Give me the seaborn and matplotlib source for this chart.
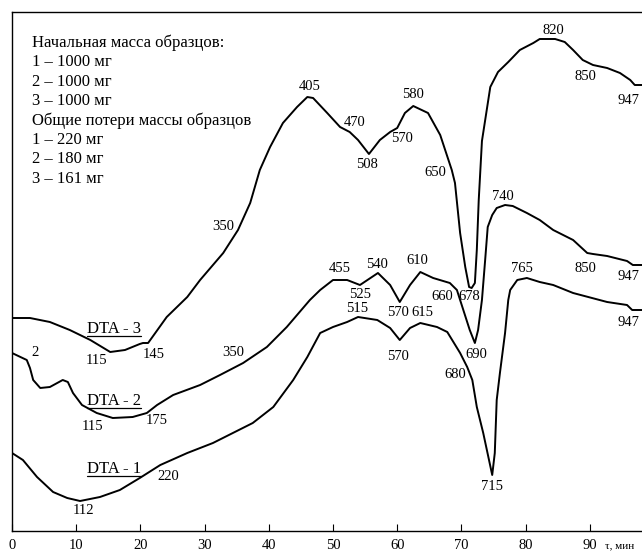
import numpy as np
import pandas as pd
import matplotlib
matplotlib.use("Agg")
import matplotlib.pyplot as plt
from matplotlib.lines import Line2D
from matplotlib.transforms import IdentityTransform
import seaborn as sns

# DTA curves: time (min) and signal (arbitrary units)
t3 = [0, 2.8, 5.9, 9.0, 12.2, 15.3, 17.6, 19.9, 20.4, 21.2, 24.1, 27.3, 29.3, 32.9, 35.2,
      37.1, 38.6, 40.2, 42.2, 44.4, 46.0, 46.9, 49.1, 51.1, 52.6, 53.9, 55.6, 57.3, 58.9,
      60.0, 61.2, 62.5, 64.8, 66.7, 68.5, 69.0, 69.8, 70.6, 71.2, 71.6, 72.1, 72.4, 72.7,
      73.2, 74.5, 75.7, 77.3, 79.1, 81.2, 82.2, 84.6, 86.1, 87.4, 88.9, 90.5, 92.7, 94.7,
      96.3, 97.0, 98.1]
s3 = [213, 213, 209, 201, 191, 179, 181, 187, 188, 188, 214, 234, 251, 278, 301,
      328, 361, 384, 408, 424, 434, 433, 418, 404, 399, 391, 377, 391, 399,
      403, 418, 425, 418, 396, 361, 348, 298, 264, 244, 243, 248, 281, 331,
      390, 444, 459, 469, 481, 488, 492, 492, 489, 481, 471, 466, 463, 458,
      451, 446, 446]

t2 = [0, 2.3, 2.8, 3.3, 4.4, 5.9, 7.9, 8.7, 9.5, 10.9, 13.2, 15.7, 18.8, 21.0, 22.6,
      25.1, 29.3, 32.4, 36.0, 39.7, 42.8, 46.4, 48.0, 50.0, 52.2, 54.2, 57.0, 58.9, 60.4,
      62.0, 63.6, 65.6, 68.2, 69.3, 70.3, 71.3, 72.1, 72.6, 73.2, 73.7, 74.1, 74.8, 75.5,
      76.8, 78.0, 80.2, 82.2, 84.3, 87.4, 89.6, 90.5, 92.7, 95.8, 96.7, 98.1]
s2 = [178, 171, 163, 151, 143, 144, 151, 149, 138, 126, 118, 113, 114, 118, 126,
      136, 146, 156, 168, 184, 204, 231, 241, 251, 251, 246, 258, 246, 229,
      246, 259, 253, 248, 241, 221, 201, 188, 201, 231, 271, 304, 316, 323,
      326, 325, 318, 311, 301, 291, 278, 277, 275, 270, 266, 266]

t1 = [0, 1.7, 3.9, 6.4, 8.6, 10.6, 13.7, 16.8, 19.9, 23.1, 27.3, 31.3, 34.4, 37.5, 40.7,
      43.8, 46.0, 48.0, 50.0, 52.2, 53.9, 56.9, 58.9, 60.4, 62.0, 63.6, 66.2, 67.8, 69.8,
      70.9, 71.7, 72.4, 73.4, 74.8, 75.2, 75.5, 76.0, 76.8, 77.3, 77.6, 78.7, 80.2, 82.2,
      84.3, 87.4, 92.7, 95.8, 96.6, 98.1]
s1 = [78, 71, 54, 39, 33, 30, 34, 41, 53, 66, 78, 88, 98, 108, 124,
      151, 174, 198, 204, 209, 214, 211, 203, 191, 203, 208, 204, 199, 178,
      164, 151, 124, 98, 56, 78, 131, 158, 198, 231, 241, 251, 253, 249,
      246, 238, 229, 226, 221, 221]

# temperature marks (°C) and where they sit
marks3 = ["115", "145", "350", "405", "470", "508", "570", "580", "650", "678", "820", "850", "947"]
mt3 = [13.2, 22.0, 32.9, 46.3, 53.4, 55.3, 60.7, 62.5, 65.9, 71.3, 84.3, 89.3, 96.0]
ms3 = [171, 177, 304, 445, 408, 367, 393, 436, 359, 234, 501, 454, 431]

marks2 = ["2", "115", "175", "350", "455", "525", "540", "570", "610", "660", "690", "740", "850", "947"]
mt2 = [3.6, 12.6, 22.6, 34.4, 51.1, 54.2, 56.9, 60.1, 63.1, 67.0, 72.4, 76.5, 89.3, 96.0]
ms2 = [178, 105, 111, 178, 263, 236, 267, 218, 271, 234, 176, 334, 263, 254]

marks1 = ["112", "220", "515", "570", "615", "680", "715", "765", "947"]
mt1 = [11.1, 24.3, 53.7, 60.1, 63.9, 69.0, 74.8, 79.4, 96.0]
ms1 = [21, 54, 223, 174, 218, 156, 44, 263, 208]

curve_names = ["DTA - 3", "DTA - 2", "DTA - 1"]
name_t = [11.7, 11.7, 11.7]
name_s = [202, 130, 62]

info_lines = ["Начальная масса образцов:", "1 – 1000 мг", "2 – 1000 мг", "3 – 1000 мг",
              "Общие потери массы образцов", "1 – 220 мг", "2 – 180 мг", "3 – 161 мг"]

xticks = [0, 10, 20, 30, 40, 50, 60, 70, 80, 90]

sns.set_style("white")
plt.rcParams['font.family'] = ['Liberation Serif', 'DejaVu Serif']

fig = plt.figure(figsize=(6.42, 5.53), dpi=100)
ax = fig.add_axes([12 / 642, 22 / 553, 1.0, 519 / 553])

for t, s in [(t3, s3), (t2, s2), (t1, s1)]:
    df = pd.DataFrame({"t": t, "s": s})
    sns.lineplot(data=df, x="t", y="s", ax=ax, color="black", lw=1.4,
                 sort=False, estimator=None)

for labels, mt, ms in [(marks3, mt3, ms3), (marks2, mt2, ms2), (marks1, mt1, ms1)]:
    for lab, x, y in zip(labels, mt, ms):
        ax.text(x, y, lab, fontsize=10.5, ha="center", va="center", color="black")

name_texts = []
for name, x, y in zip(curve_names, name_t, name_s):
    name_texts.append(ax.text(x, y, name, fontsize=12, ha="left", va="center", color="black"))

for i, line in enumerate(info_lines):
    ax.text(3.1, 488 - i * 19.4, line, fontsize=12, ha="left", va="center", color="black")

ax.set_xlim(0, 100)
ax.set_ylim(0, 519)
ax.set_xticks(xticks)
ax.set_xticklabels([str(v) for v in xticks])
ax.set_yticks([])
ax.set_xlabel("")
ax.set_ylabel("")
ax.tick_params(axis="x", direction="in", length=5, width=0.8, pad=6, labelsize=10.5,
               colors="black", bottom=True)
for side in ["left", "bottom", "top"]:
    ax.spines[side].set_color("black")
    ax.spines[side].set_linewidth(1.0)
ax.spines["right"].set_visible(False)

ax.text(92.4, -15, "τ, мин", fontsize=8, ha="left", va="center", color="black",
        clip_on=False)

# underline the curve names
fig.canvas.draw()
for txt in name_texts:
    bb = txt.get_window_extent()
    fig.add_artist(Line2D([bb.x0, bb.x1], [bb.y0 + 1, bb.y0 + 1], color="black",
                          lw=0.9, transform=IdentityTransform()))

fig.savefig("out.png", dpi=100)
